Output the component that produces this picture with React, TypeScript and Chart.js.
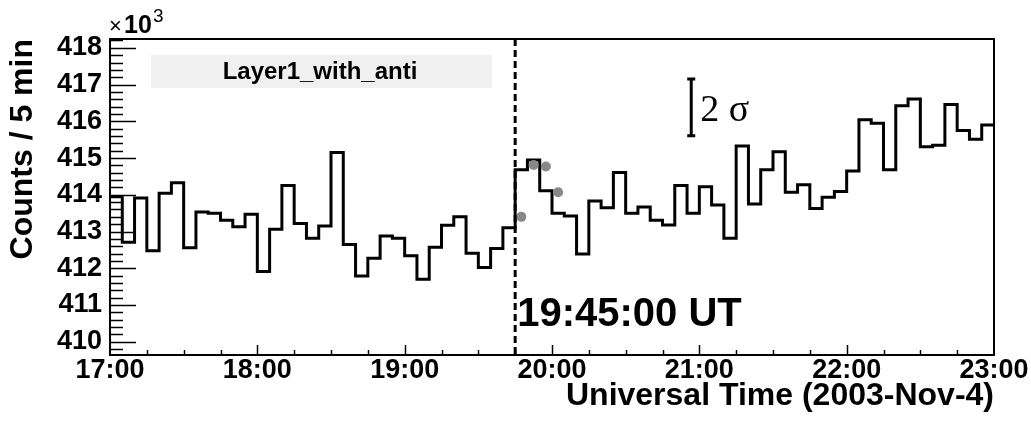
import React, { useEffect, useRef } from "react";
import { Chart, registerables } from "chart.js";

Chart.register(...registerables);

// ---- data (counts in units of 10^3 per 5-min bin, starting 17:00 UT) ----
const START_HOUR = 17;
const BIN_MINUTES = 5;
const counts: number[] = [
  413.95, 412.71, 413.91, 412.48, 414.04, 414.33, 412.56, 413.53, 413.5, 413.31,
  413.13, 413.47, 411.91, 413.06, 414.25, 413.22, 412.82, 413.15, 415.15, 412.65,
  411.79, 412.27, 412.88, 412.82, 412.34, 411.7, 412.57, 413.17, 413.4, 412.41,
  412.02, 412.54, 413.1, 414.68, 414.95, 414.11, 413.5, 413.42, 412.39, 413.83,
  413.65, 414.61, 413.5, 413.67, 413.31, 413.18, 414.25, 413.5, 414.22, 413.72,
  412.82, 415.33, 413.75, 414.68, 415.17, 414.07, 414.27, 413.63, 413.93, 414.09,
  414.65, 416.04, 415.95, 414.68, 416.42, 416.61, 415.31, 415.35, 416.46, 415.75,
  415.51, 415.9,
];
// grey markers (minutes after 17:00, counts x10^3)
const markerMinutes: number[] = [167.5, 172.5, 177.5, 182.5];
const markerCounts: number[] = [413.4, 414.81, 414.77, 414.07];

// tick values
const xTickMinutes: number[] = [0, 60, 120, 180, 240, 300, 360];
const yTickValues: number[] = [410, 411, 412, 413, 414, 415, 416, 417, 418];

const X_MIN = 0;
const X_MAX = 360;
const Y_MIN = 409.64;
const Y_MAX = 418.24;

const eventMinute = 165; // 19:45 UT
const eventLabel = "19:45:00 UT";
const eventLabelValue = 410.43;
const sigmaMinute = 236.7;
const sigmaRange: number[] = [415.61, 417.15];
const sigmaLabel = "2 σ";
const sigmaLabelValue = 416.0;
const legendLabel = "Layer1_with_anti";
const xTitle = "Universal Time (2003-Nov-4)";
const yTitle = "Counts / 5 min";

const SANS = "'Liberation Sans', Arial, Helvetica, sans-serif";
const SERIF = "'Liberation Serif', 'Times New Roman', serif";

const decorPlugin = {
  id: "decor",
  afterDatasetsDraw(chart: any) {
    const { ctx, chartArea: a, scales } = chart;
    const xs = scales.x;
    const ys = scales.y;
    ctx.save();
    ctx.strokeStyle = "#000";
    ctx.fillStyle = "#000";

    // legend pave
    ctx.fillStyle = "#f0f0f0";
    ctx.fillRect(a.left + 41, a.top + 16, 341, 33);
    ctx.fillStyle = "#000";
    ctx.font = `bold 24px ${SANS}`;
    ctx.textAlign = "center";
    ctx.textBaseline = "middle";
    ctx.fillText(legendLabel, a.left + 41 + 169, a.top + 16 + 17);

    // dashed event line
    const ex = xs.getPixelForValue(eventMinute);
    ctx.lineWidth = 3;
    ctx.setLineDash([7, 4]);
    ctx.beginPath();
    ctx.moveTo(ex, a.top);
    ctx.lineTo(ex, a.bottom);
    ctx.stroke();
    ctx.setLineDash([]);

    // event label
    ctx.font = `bold 40px ${SANS}`;
    ctx.textAlign = "left";
    ctx.textBaseline = "alphabetic";
    ctx.fillText(eventLabel, ex + 2, ys.getPixelForValue(eventLabelValue));

    // 2 sigma bar
    const sx = xs.getPixelForValue(sigmaMinute);
    const sy1 = ys.getPixelForValue(sigmaRange[1]);
    const sy0 = ys.getPixelForValue(sigmaRange[0]);
    ctx.lineWidth = 3;
    ctx.beginPath();
    ctx.moveTo(sx, sy1);
    ctx.lineTo(sx, sy0);
    ctx.moveTo(sx - 4, sy1);
    ctx.lineTo(sx + 4, sy1);
    ctx.moveTo(sx - 4, sy0);
    ctx.lineTo(sx + 4, sy0);
    ctx.stroke();
    ctx.font = `38px ${SERIF}`;
    ctx.fillText(sigmaLabel, sx + 9, ys.getPixelForValue(sigmaLabelValue));

    // y ticks (inside, major every 1, minor every 0.2)
    ctx.lineWidth = 1.5;
    for (let k = Math.ceil(ys.min * 5 - 1e-6); k <= Math.floor(ys.max * 5 + 1e-6); k++) {
      const v = k / 5;
      const major = k % 5 === 0;
      const py = Math.round(ys.getPixelForValue(v)) + 0.5;
      ctx.beginPath();
      ctx.moveTo(a.left, py);
      ctx.lineTo(a.left + (major ? 26 : 13), py);
      ctx.stroke();
    }
    // x ticks (inside, major every hour, minor every 15 min)
    for (let m = X_MIN + 15; m < X_MAX; m += 15) {
      const major = m % 60 === 0;
      const px = Math.round(xs.getPixelForValue(m)) + 0.5;
      ctx.beginPath();
      ctx.moveTo(px, a.bottom);
      ctx.lineTo(px, a.bottom - (major ? 10 : 5));
      ctx.stroke();
    }

    // frame
    ctx.lineWidth = 2;
    ctx.strokeRect(a.left, a.top, a.right - a.left, a.bottom - a.top);

    // x10^3 exponent
    ctx.textAlign = "left";
    ctx.textBaseline = "alphabetic";
    ctx.font = `22px ${SANS}`;
    ctx.fillText("×", a.left - 1, a.top - 6);
    ctx.font = `bold 25px ${SANS}`;
    ctx.fillText("10", a.left + 14, a.top - 6);
    ctx.font = `19px ${SANS}`;
    ctx.fillText("3", a.left + 43, a.top - 17);

    ctx.restore();
  },
};

export default function App() {
  const ref = useRef<HTMLCanvasElement | null>(null);

  useEffect(() => {
    document.body.style.margin = "0";
    document.body.style.overflow = "hidden";
    const canvas = ref.current;
    if (!canvas) return;

    const histPoints = counts.map((v, i) => ({ x: X_MIN + i * BIN_MINUTES, y: v }));
    histPoints.push({ x: X_MIN + counts.length * BIN_MINUTES, y: counts[counts.length - 1] });
    const markerPoints = markerMinutes.map((m, i) => ({ x: m, y: markerCounts[i] }));

    const chart = new Chart(canvas, {
      type: "line",
      data: {
        datasets: [
          {
            label: "markers",
            data: markerPoints,
            showLine: false,
            pointRadius: 5,
            pointBackgroundColor: "#888888",
            pointBorderWidth: 0,
            order: 0,
          },
          {
            label: legendLabel,
            data: histPoints,
            stepped: "before",
            borderColor: "#000000",
            borderWidth: 3,
            pointRadius: 0,
            fill: false,
            order: 1,
          },
        ],
      },
      options: {
        responsive: false,
        animation: false,
        devicePixelRatio: 1,
        layout: { padding: { left: 0, top: 39, right: 37, bottom: 0 } },
        plugins: {
          legend: { display: false },
          tooltip: { enabled: false },
          title: { display: false },
        },
        scales: {
          x: {
            type: "linear",
            min: X_MIN,
            max: X_MAX,
            bounds: "data",
            grid: { display: false, drawTicks: false },
            border: { display: false },
            afterBuildTicks: (s: any) => {
              s.ticks = xTickMinutes.map((v) => ({ value: v }));
            },
            ticks: {
              autoSkip: false,
              maxRotation: 0,
              padding: 2,
              color: "#000",
              font: { family: SANS, weight: "bold", size: 27, lineHeight: 1 },
              callback: (v: any) => `${START_HOUR + Number(v) / 60}:00`,
            },
            title: {
              display: true,
              text: xTitle,
              align: "end",
              color: "#000",
              font: { family: SANS, weight: "bold", size: 32, lineHeight: 1.2 },
              padding: { top: 0, bottom: 6 },
            },
            afterFit: (s: any) => {
              s.height = 66;
            },
          },
          y: {
            type: "linear",
            min: Y_MIN,
            max: Y_MAX,
            bounds: "data",
            grid: { display: false, drawTicks: false },
            border: { display: false },
            afterBuildTicks: (s: any) => {
              s.ticks = yTickValues.map((v) => ({ value: v }));
            },
            ticks: {
              autoSkip: false,
              padding: 8,
              color: "#000",
              font: { family: SANS, weight: "bold", size: 27, lineHeight: 1 },
              callback: (v: any) => String(Math.round(Number(v))),
            },
            title: {
              display: true,
              text: yTitle,
              align: "end",
              color: "#000",
              font: { family: SANS, weight: "bold", size: 32, lineHeight: 1.2 },
              padding: { top: 4, bottom: 0 },
            },
            afterFit: (s: any) => {
              s.width = 110;
            },
          },
        },
      },
      plugins: [decorPlugin],
    } as any);

    return () => {
      chart.destroy();
    };
  }, []);

  return (
    <div style={{ width: 1031, height: 421, background: "#fff" }}>
      <canvas ref={ref} width={1031} height={421} style={{ display: "block", width: 1031, height: 421 }} />
    </div>
  );
}
